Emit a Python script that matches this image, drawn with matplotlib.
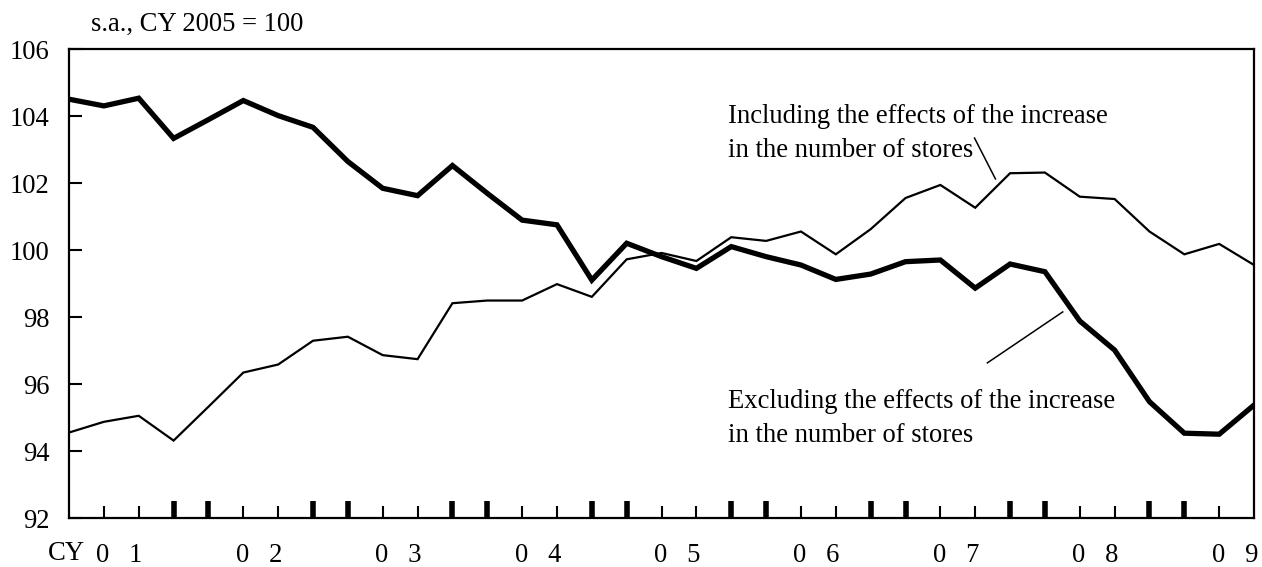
import numpy as np
from matplotlib import pyplot as plt

# quarterly, 2001Q1 - 2009Q3 (s.a., CY2005 = 100)
excluding = [104.51, 104.31, 104.54, 103.34, 103.90, 104.47, 104.02, 103.67,
             102.65, 101.85, 101.63, 102.53, 101.70, 100.90, 100.76, 99.11,
             100.21, 99.81, 99.46, 100.11, 99.81, 99.56, 99.13, 99.29,
             99.66, 99.71, 98.87, 99.59, 99.36, 97.89, 97.02, 95.48,
             94.54, 94.51, 95.38]
including = [94.56, 94.88, 95.06, 94.32, 95.33, 96.35, 96.59, 97.30,
             97.42, 96.87, 96.75, 98.42, 98.50, 98.50, 98.99, 98.61,
             99.73, 99.92, 99.68, 100.39, 100.28, 100.56, 99.88, 100.63,
             101.56, 101.95, 101.27, 102.30, 102.32, 101.60, 101.53, 100.56,
             99.88, 100.19, 99.56]
year_labels = ["0   1", "0   2", "0   3", "0   4", "0   5",
               "0   6", "0   7", "0   8", "0   9"]

plt.rcParams["font.family"] = ["Liberation Serif", "DejaVu Serif"]
fs = 19.2

x = np.arange(len(excluding))

fig = plt.figure(figsize=(12.62, 5.67), dpi=100)
ax = fig.add_axes([0.0547, 0.0859, 0.939, 0.8272])

ax.plot(x, including, color="black", linewidth=1.6, solid_joinstyle="miter")
ax.plot(x, excluding, color="black", linewidth=3.8, solid_joinstyle="miter")

ax.set_xlim(0, len(x) - 1)
ax.set_ylim(92, 106)
ax.set_yticks(np.arange(92, 107, 2))
ax.tick_params(axis="y", direction="in", length=9, width=1.5, pad=14, labelsize=fs)

thin = [i for i in x if i % 4 in (1, 2) and 0 < i < len(x) - 1]
thick = [i for i in x if i % 4 in (3, 0) and 0 < i < len(x) - 1]
ax.set_xticks(thin)
ax.set_xticks(thick, minor=True)
ax.tick_params(axis="x", which="major", direction="in", length=9, width=1.5, labelbottom=False)
ax.tick_params(axis="x", which="minor", direction="in", length=12, width=4, labelbottom=False)

for s in ax.spines.values():
    s.set_linewidth(1.6)

# year labels under the axis
trans = ax.get_xaxis_transform()
for k, lab in enumerate(year_labels):
    ax.text(1.45 + 4 * k, -0.079, lab, transform=trans, ha="center", va="center",
            fontsize=fs, clip_on=False)
fig.text(48 / 1262, 1 - 553 / 567, "CY", ha="left", va="center", fontsize=fs)

fig.text(91 / 1262, 1 - 24 / 567, "s.a., CY 2005 = 100", ha="left", va="center", fontsize=fs)

# annotations
ax.text(18.9, 103.98, "Including the effects of the increase", fontsize=fs, va="center")
ax.text(18.9, 102.98, "in the number of stores", fontsize=fs, va="center")
ax.plot([25.98, 26.58], [103.35, 102.13], color="black", linewidth=1.1)

ax.text(18.9, 95.50, "Excluding the effects of the increase", fontsize=fs, va="center")
ax.text(18.9, 94.48, "in the number of stores", fontsize=fs, va="center")
ax.plot([26.35, 28.51], [96.64, 98.16], color="black", linewidth=1.1)

fig.savefig("out.png", dpi=100)
